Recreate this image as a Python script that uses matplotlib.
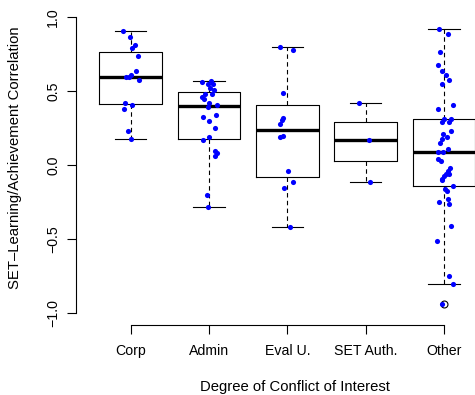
# Imports
import numpy as np
import matplotlib
matplotlib.use('Agg')
import matplotlib.pyplot as plt

plt.rcParams['font.family'] = ['Liberation Sans', 'DejaVu Sans']

groups = ['Corp', 'Admin', 'Eval U.', 'SET Auth.', 'Other']

corp = [0.905, 0.867, 0.809, 0.788, 0.736, 0.637, 0.597, 0.597, 0.608, 0.576,
        0.417, 0.405, 0.376, 0.228, 0.178]
corp_jit = [-0.10, -0.01, 0.05, 0.01, 0.09, 0.07, -0.06, -0.02, 0.00, 0.10,
            -0.07, 0.01, -0.09, -0.04, 0.00]

admin = [0.559, 0.568, 0.547, 0.547, 0.518, 0.507, 0.480, 0.478, 0.457, 0.446,
         0.419, 0.408, 0.394, 0.327, 0.336, 0.297, 0.248, 0.187, 0.167, 0.097,
         0.079, 0.059, -0.200, -0.282]
admin_jit = [-0.09, 0.02, -0.02, 0.05, 0.01, 0.06, -0.05, 0.04, -0.09, -0.06,
             0.00, 0.10, -0.02, -0.08, 0.09, 0.00, 0.07, 0.00, -0.08, 0.07,
             0.10, 0.08, -0.03, -0.01]

evalu = [0.797, 0.775, 0.486, 0.318, 0.304, 0.277, 0.196, 0.187, -0.043, -0.113,
         -0.153, -0.421]
evalu_jit = [-0.10, 0.07, -0.06, -0.05, -0.07, -0.10, -0.05, -0.10, 0.01, 0.07,
             -0.04, 0.03]

setauth = [0.417, 0.167, -0.113]
setauth_jit = [-0.09, 0.04, 0.05]

other = [0.917, 0.885, 0.766, 0.676, 0.637, 0.608, 0.577, 0.547, 0.405, 0.376,
         0.309, 0.313, 0.288, 0.288, 0.228, 0.207, 0.187, 0.178, 0.146, 0.108,
         0.088, 0.088, 0.038, 0.027, -0.023, -0.043, -0.061, -0.061, -0.072, -0.092,
         -0.101, -0.145, -0.162, -0.173, -0.232, -0.252, -0.261, -0.412, -0.511, -0.752,
         -0.802, -0.941]
other_jit = [-0.06, 0.05, -0.05, -0.08, -0.02, 0.02, 0.07, -0.02, 0.11, -0.08,
             0.00, 0.09, -0.02, 0.07, 0.09, -0.01, 0.04, -0.02, -0.05, 0.05,
             -0.08, -0.01, -0.08, -0.04, 0.08, 0.05, 0.03, 0.07, 0.00, -0.03,
             -0.02, 0.11, 0.01, 0.04, 0.05, -0.06, 0.06, 0.09, -0.09, 0.07,
             0.11, -0.02]

values = [corp, admin, evalu, setauth, other]
jitters = [corp_jit, admin_jit, evalu_jit, setauth_jit, other_jit]


# R style box stats (Tukey hinges)
def box_stats(v, coef=1.5):
    x = np.sort(np.asarray(v))
    n = len(x)
    n4 = np.floor((n + 3) / 2) / 2
    d = np.array([1, n4, (n + 1) / 2, n + 1 - n4, n]) - 1
    fn = 0.5 * (x[np.floor(d).astype(int)] + x[np.ceil(d).astype(int)])
    q1, med, q3 = fn[1], fn[2], fn[3]
    iqr = q3 - q1
    inside = x[(x >= q1 - coef * iqr) & (x <= q3 + coef * iqr)]
    fliers = x[(x < q1 - coef * iqr) | (x > q3 + coef * iqr)]
    return dict(med=med, q1=q1, q3=q3, whislo=inside.min(), whishi=inside.max(),
                fliers=fliers)


stats = [box_stats(v) for v in values]
pos = np.arange(1, len(groups) + 1)

fig = plt.figure(figsize=(4.75, 3.95), dpi=100)
ax = fig.add_axes([0.16, 0.1772, 0.8901, 0.8101])

ax.bxp(stats, positions=pos, widths=0.8, patch_artist=False,
       boxprops=dict(color='black', linewidth=0.8),
       medianprops=dict(color='black', linewidth=2.4, solid_capstyle='butt'),
       whiskerprops=dict(color='black', linewidth=0.8, linestyle=(0, (4, 3))),
       capprops=dict(color='black', linewidth=0.8),
       flierprops=dict(marker='o', markerfacecolor='none', markeredgecolor='black',
                       markersize=5, markeredgewidth=0.8))

for i, (v, j) in enumerate(zip(values, jitters)):
    ax.plot(pos[i] + np.array(j), v, 'o', color='#0000ff', markersize=3.7,
            markeredgewidth=0, zorder=5)

ax.set_xlim(0.3, 5.7)
ax.set_ylim(-1.08, 1.08)
ax.set_xticks(pos)
ax.set_xticklabels(groups)
ax.set_yticks([-1.0, -0.5, 0.0, 0.5, 1.0])
ax.set_yticklabels(['\u22121.0', '\u22120.5', '0.0', '0.5', '1.0'], rotation=90, va='center')

for s in ['top', 'right']:
    ax.spines[s].set_visible(False)
ax.spines['left'].set_bounds(-1.0, 1.0)
ax.spines['bottom'].set_bounds(1, 5)
ax.spines['left'].set_linewidth(0.8)
ax.spines['bottom'].set_linewidth(0.8)
ax.tick_params(direction='out', length=6.5, width=0.8, labelsize=10.2)
ax.tick_params(axis='x', pad=7.5)
ax.tick_params(axis='y', pad=5)

fig.text(295 / 475, 1 - 387 / 395, 'Degree of Conflict of Interest', ha='center',
         va='center', fontsize=10.7)
fig.text(15 / 475, 1 - 158 / 395, 'SET\u2013Learning/Achievement Correlation',
         rotation=90, ha='center', va='center', fontsize=10.7)

plt.savefig('out.png', dpi=100)
